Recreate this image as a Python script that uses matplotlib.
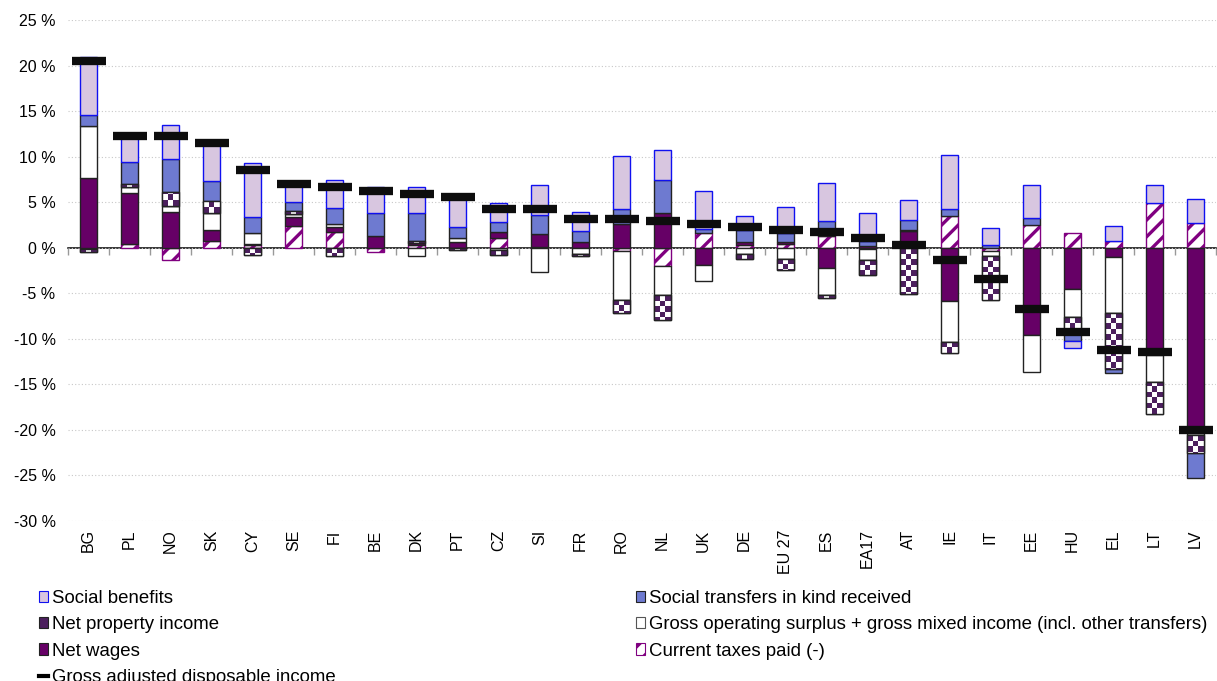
import numpy as np
import matplotlib
matplotlib.use("Agg")
import matplotlib.pyplot as plt
from matplotlib.patches import Patch
from matplotlib.lines import Line2D

# ---------------- data (percent change) ----------------
countries = ["BG", "PL", "NO", "SK", "CY", "SE", "FI", "BE", "DK", "PT", "CZ", "SI", "FR", "RO",
             "NL", "UK", "DE", "EU 27", "ES", "EA17", "AT", "IE", "IT", "EE", "HU", "EL", "LT", "LV"]

current_taxes = [-0.15, 0.45, -1.3, 0.7, 0.3, 2.4, 1.7, -0.45, 0.3, 0.0, 1.1, 0.1, -0.05, -0.4,
                 -2.05, 1.65, 0.35, 0.4, 1.3, -0.15, -0.05, 3.5, -0.35, 2.5, 1.65, 0.7, 4.95, 2.75]
net_wages = [7.7, 5.6, 3.95, 1.3, 0.15, 1.0, 0.6, 1.3, 0.2, 0.6, 0.6, 1.4, 0.6, 2.6,
             3.85, -1.9, 0.25, 0.2, -2.2, 0.2, 1.8, -5.9, 0.0, -9.6, -4.5, -1.0, -11.8, -20.3]
gross_operating = [5.7, 0.65, 0.65, 1.8, 1.2, 0.35, 0.35, 0.0, -0.9, 0.5, -0.25, -2.65, -0.65, -5.35,
                   -3.15, -1.8, -0.65, -1.2, -3.0, -1.15, 0.2, -4.4, -0.55, -4.0, -3.15, -6.15, -2.9, -0.25]
net_property = [-0.3, 0.25, 1.55, 1.3, -0.8, 0.25, -0.9, 0.0, 0.2, -0.2, -0.5, 0.0, -0.2, -1.45,
                -2.7, 0.0, -0.55, -1.3, -0.3, -1.7, -5.0, -1.25, -4.8, 0.0, -1.6, -6.15, -3.6, -1.95]
transfers_in_kind = [1.2, 2.5, 3.55, 2.2, 1.75, 1.05, 1.7, 2.55, 3.1, 1.2, 1.1, 2.1, 1.2, 1.65,
                     3.55, 0.4, 1.3, 1.05, 1.6, 0.5, 1.0, 0.8, 0.35, 0.8, -0.95, -0.4, 0.0, -2.8]
social_benefits = [6.3, 2.9, 3.8, 4.0, 5.85, 1.85, 3.05, 2.85, 2.9, 3.3, 2.1, 3.3, 2.1, 5.85,
                   3.3, 4.15, 1.55, 2.8, 4.2, 3.15, 2.2, 5.85, 1.8, 3.55, -0.8, 1.7, 1.9, 2.55]
gadi = [20.5, 12.3, 12.3, 11.5, 8.55, 6.95, 6.65, 6.25, 5.85, 5.55, 4.2, 4.2, 3.2, 3.1,
        2.9, 2.55, 2.25, 2.0, 1.7, 1.1, 0.25, -1.3, -3.45, -6.7, -9.3, -11.2, -11.4, -20.0]

y_ticks = list(range(-30, 30, 5))
y_tick_labels = [f"{v} %" for v in y_ticks]

# ---------------- style ----------------
plt.rcParams["font.family"] = ["Liberation Sans", "DejaVu Sans"]
plt.rcParams["hatch.linewidth"] = 2.4

C_BEN = "#D8C6E0"
C_KIND = "#6E7AD0"
C_WAGE = "#660066"
C_TAX = "#800080"
C_PROP = "#4C1F5E"

W = 1217
H = 681
fig = plt.figure(figsize=(W / 100, H / 100), dpi=100)
ax = fig.add_axes([68 / W, 1 - 521 / H, (1216 - 68) / W, (521 - 20) / H])

x = np.arange(len(countries))
bw = 0.4
ax.set_xlim(-0.5, len(countries) - 0.5)
ax.set_ylim(-30, 25)

series = [
    ("taxes", current_taxes),
    ("wages", net_wages),
    ("gos", gross_operating),
    ("prop", net_property),
    ("kind", transfers_in_kind),
    ("ben", social_benefits),
]
styles = {
    "taxes": dict(facecolor="white", edgecolor=C_TAX, hatch="//", linewidth=1.0),
    "wages": dict(facecolor=C_WAGE, edgecolor="#222222", linewidth=1.0),
    "gos": dict(facecolor="white", edgecolor="#222222", linewidth=1.0),
    "prop": dict(facecolor="white", edgecolor="#222222", linewidth=1.0),
    "kind": dict(facecolor=C_KIND, edgecolor="#222222", linewidth=1.0),
    "ben": dict(facecolor=C_BEN, edgecolor="#1010F0", linewidth=1.0),
}

pos_b = np.zeros(len(x))
neg_b = np.zeros(len(x))
prop_patches = []
for key, vals in series:
    v = np.array(vals, dtype=float)
    m = v != 0
    bottoms = np.where(v >= 0, pos_b, neg_b)
    cont = ax.bar(x[m], v[m], bottom=bottoms[m], width=bw, zorder=2, **styles[key])
    if key == "prop":
        prop_patches = list(cont.patches)
    pos_b += np.clip(v, 0, None)
    neg_b += np.clip(v, None, 0)

# checkerboard fill for net property income
fig.canvas.draw()
ppu = ax.transData.transform((0, 1))[1] - ax.transData.transform((0, 0))[1]
ppx = ax.transData.transform((1, 0))[0] - ax.transData.transform((0, 0))[0]
ncols = 3
cell_px = bw * ppx / ncols
cell = cell_px / ppu
for p in prop_patches:
    x0, y0, w, h = p.get_x(), p.get_y(), p.get_width(), p.get_height()
    sgn = 1 if h >= 0 else -1
    nrows = max(1, int(np.ceil(abs(h) / cell)))
    arr = np.array([[(i + j) % 2 for j in range(ncols)] for i in range(nrows)])
    rgb = np.where(arr[..., None] == 0,
                   np.array(matplotlib.colors.to_rgb(C_PROP)),
                   np.array([1.0, 1.0, 1.0]))
    y_far = y0 + sgn * nrows * cell
    im = ax.imshow(rgb, extent=(x0, x0 + w, min(y0, y_far), max(y0, y_far)),
                   origin="lower" if sgn > 0 else "upper",
                   aspect="auto", interpolation="nearest", zorder=2.1)
    im.set_clip_path(p)
    ax.add_patch(matplotlib.patches.Rectangle((x0, y0), w, h, facecolor="none",
                                              edgecolor="#222222", linewidth=1.0, zorder=2.2))

ax.set_xlim(-0.5, len(countries) - 0.5)
ax.set_ylim(-30, 25)

# GADI markers
ax.plot(x, gadi, linestyle="none", marker="_", markersize=25, markeredgewidth=6,
        color="#0d0d0d", zorder=5)

# axes cosmetics
for s in ax.spines.values():
    s.set_visible(False)
ax.set_yticks(y_ticks)
ax.set_yticklabels(y_tick_labels, fontsize=11.5)
ax.tick_params(axis="y", length=0, pad=9)
ax.set_xticks(x)
ax.set_xticklabels(countries, rotation=90, fontsize=11.5)
ax.tick_params(axis="x", length=0, pad=6)
ax.yaxis.grid(True, linestyle=(0, (1, 2)), color="#C8C8C8", linewidth=0.8)
ax.set_axisbelow(True)

# zero line with boundary tick marks
zero_frac = (0 - (-30)) / 55.0
sec = ax.secondary_xaxis(zero_frac)
sec.set_alignment("bottom")
sec.set_xticks(np.arange(-0.5, len(countries), 1.0))
sec.tick_params(axis="x", length=5, width=1, color="#999999", direction="out", labelbottom=False,
                labeltop=False)
sec.spines["bottom"].set_color("black")
sec.spines["bottom"].set_linewidth(1.1)

# legends
h_ben = Patch(facecolor=C_BEN, edgecolor="#1010F0", linewidth=0.8)
h_kind = Patch(facecolor=C_KIND, edgecolor="#222222", linewidth=0.8)
h_prop = Patch(facecolor=C_PROP, edgecolor="#222222", linewidth=0.8)
h_gos = Patch(facecolor="white", edgecolor="#555555", linewidth=0.8)
h_wage = Patch(facecolor=C_WAGE, edgecolor="#222222", linewidth=0.8)
h_tax = Patch(facecolor="white", edgecolor=C_TAX, hatch="//", linewidth=0.8)
h_gadi = Line2D([], [], color="black", linewidth=3)

common = dict(frameon=False, fontsize=13.4, loc="upper left", borderpad=0, borderaxespad=0,
              handlelength=0.5, handleheight=0.55, handletextpad=0.2, labelspacing=0.5)
fig.legend([h_ben, h_prop, h_wage, h_gadi],
           ["Social benefits", "Net property income", "Net wages", "Gross adjusted disposable income"],
           bbox_to_anchor=(39 / W, 1 - 590 / H), **common)
fig.legend([h_kind, h_gos, h_tax],
           ["Social transfers in kind received",
            "Gross operating surplus + gross mixed income (incl. other transfers)",
            "Current taxes paid (-)"],
           bbox_to_anchor=(636 / W, 1 - 590 / H), **common)

fig.savefig("out.png", dpi=100)
